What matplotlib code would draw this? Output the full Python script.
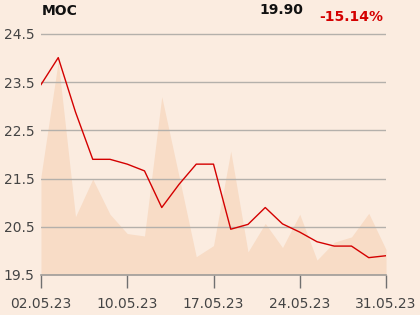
import matplotlib
matplotlib.use("Agg")
import matplotlib.pyplot as plt

# Kurs (MOC), mai 2023 - 21 punkter, etikett paa hvert 5. punkt
price = [23.45, 24.01, 22.88, 21.90, 21.90, 21.80, 21.66, 20.90, 21.38, 21.80,
         21.80, 20.45, 20.55, 20.90, 20.56, 20.39, 20.19, 20.10, 20.10, 19.86, 19.90]
# skyggelagt omraade (volum), i samme skala som kursen
volume_band = [21.55, 23.94, 20.71, 21.49, 20.76, 20.36, 20.31, 23.20, 21.55, 19.88,
               20.11, 22.07, 19.98, 20.57, 20.07, 20.76, 19.81, 20.18, 20.29, 20.78, 20.03]
tick_idx = [0, 5, 10, 15, 20]
tick_labels = ["02.05.23", "10.05.23", "17.05.23", "24.05.23", "31.05.23"]
yticks = [19.5, 20.5, 21.5, 22.5, 23.5, 24.5]

name = "MOC"
last = "19.90"
change = "-15.14%"

bg = "#fbece0"
fig = plt.figure(figsize=(4.2, 3.15), dpi=100, facecolor=bg)
ax = fig.add_axes([41/420, 1-275/315, 345/420, 255/315])
ax.set_facecolor(bg)

x = list(range(len(price)))
ax.fill_between(x, 19.5, volume_band, color="#f8dcc6", linewidth=0, zorder=1)
ax.plot(x, price, color="#d40000", linewidth=1.0, zorder=3)

ax.set_xlim(0, len(price)-1)
ax.set_ylim(19.5, 24.5 + 14/48.2)
ax.set_yticks(yticks)
ax.set_yticklabels([f"{v:.1f}" for v in yticks])
ax.set_xticks(tick_idx)
ax.set_xticklabels(tick_labels)

ax.grid(axis="y", color="#b4b0ab", linewidth=1.0, zorder=2)
ax.set_axisbelow(False)
for s in ["top", "right", "left"]:
    ax.spines[s].set_visible(False)
ax.spines["bottom"].set_color("#a09d9a")
ax.spines["bottom"].set_linewidth(1.2)
ax.spines["bottom"].set_zorder(4)

ax.tick_params(axis="y", length=0, pad=4.5, labelsize=10, labelcolor="#444444")
ax.tick_params(axis="x", length=9.5, width=1.0, color="#707070", pad=6,
               labelsize=10, labelcolor="#444444")

fig.text(42/420, 1-11/315, name, fontsize=10, fontweight="bold", color="#111111",
         va="center", ha="left")
fig.text(281/420, 1-10/315, last, fontsize=10, fontweight="bold", color="#111111",
         va="center", ha="center")
fig.text(351/420, 1-17/315, change, fontsize=10, fontweight="bold", color="#d40000",
         va="center", ha="center")

fig.savefig("out.png", dpi=100, facecolor=bg)
